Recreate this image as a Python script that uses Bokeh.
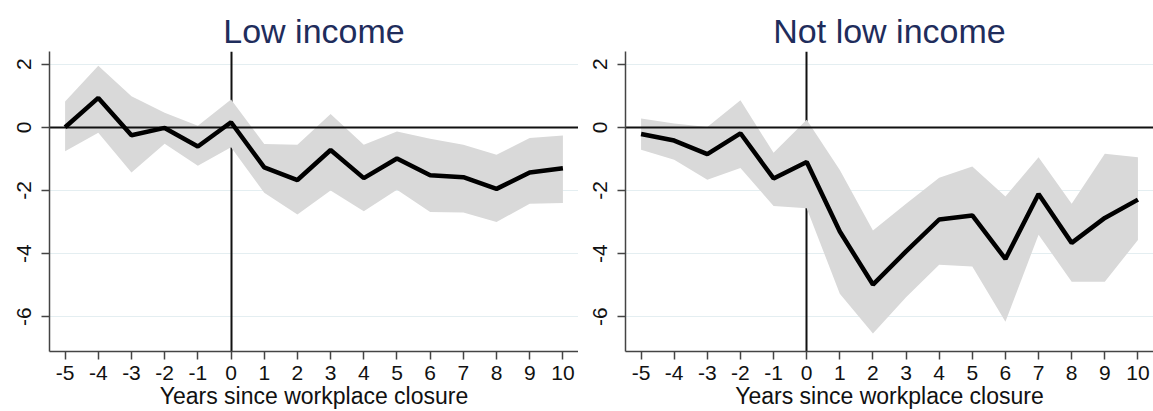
from bokeh.plotting import figure
from bokeh.layouts import row
from bokeh.models import FixedTicker
from bokeh.embed import file_html
from bokeh.resources import INLINE

years = [-5, -4, -3, -2, -1, 0, 1, 2, 3, 4, 5, 6, 7, 8, 9, 10]

low_est = [0.0, 0.93, -0.25, -0.02, -0.61, 0.16, -1.27, -1.67, -0.72, -1.61, -0.99, -1.52, -1.58, -1.95, -1.43, -1.3]
low_hi = [0.82, 1.95, 0.98, 0.46, 0.05, 0.88, -0.53, -0.55, 0.42, -0.55, -0.13, -0.36, -0.55, -0.87, -0.34, -0.26]
low_lo = [-0.76, -0.17, -1.43, -0.52, -1.22, -0.63, -2.07, -2.76, -2.0, -2.66, -1.98, -2.68, -2.7, -3.0, -2.42, -2.4]

not_est = [-0.21, -0.42, -0.85, -0.19, -1.62, -1.1, -3.3, -4.98, -3.93, -2.92, -2.79, -4.17, -2.11, -3.66, -2.87, -2.29]
not_hi = [0.28, 0.12, 0.01, 0.86, -0.81, 0.24, -1.35, -3.27, -2.42, -1.6, -1.24, -2.19, -0.95, -2.42, -0.84, -0.95]
not_lo = [-0.71, -1.03, -1.66, -1.29, -2.49, -2.56, -5.27, -6.53, -5.38, -4.35, -4.41, -6.16, -3.4, -4.89, -4.89, -3.57]

titles = ["Low income", "Not low income"]
x_ticks = years
y_ticks = [-6, -4, -2, 0, 2]
x_label = "Years since workplace closure"

FONT = "Liberation Sans"


def make_panel(title, est, lo, hi, width, border_left):
    p = figure(width=width, height=411, output_backend="svg", toolbar_location=None,
               x_range=(-5.47, 10.47), y_range=(-7.1, 2.4),
               min_border_left=border_left, min_border_right=0,
               min_border_top=51, min_border_bottom=60)
    p.outline_line_color = None
    p.background_fill_color = "white"
    p.border_fill_color = "white"

    p.title.text = title
    p.title.align = "center"
    p.title.text_font = FONT
    p.title.text_font_size = "34px"
    p.title.text_font_style = "normal"
    p.title.text_color = "#1f2d5c"
    p.title.standoff = 4

    p.xgrid.grid_line_color = None
    p.ygrid.grid_line_color = "#e4eef1"
    p.ygrid.grid_line_width = 1.2

    for ax in (p.xaxis, p.yaxis):
        ax.axis_line_color = "#444444"
        ax.axis_line_width = 1.5
        ax.major_tick_line_color = "#444444"
        ax.major_tick_line_width = 1.5
        ax.major_tick_in = 0
        ax.major_tick_out = 8
        ax.minor_tick_line_color = None
        ax.major_label_text_font = FONT
        ax.major_label_text_font_size = "21px"
        ax.major_label_text_color = "#111111"

    p.xaxis.ticker = FixedTicker(ticks=x_ticks)
    p.yaxis.ticker = FixedTicker(ticks=y_ticks)
    p.ygrid.ticker = FixedTicker(ticks=y_ticks)
    p.xaxis.major_label_overrides = {t: str(t) for t in x_ticks}
    p.yaxis.major_label_overrides = {t: str(t) for t in y_ticks}
    p.xaxis.major_label_standoff = 6
    p.yaxis.major_label_standoff = 10
    p.yaxis.major_label_orientation = "vertical"

    p.xaxis.axis_label = x_label
    p.xaxis.axis_label_text_font = FONT
    p.xaxis.axis_label_text_font_size = "23px"
    p.xaxis.axis_label_text_font_style = "normal"
    p.xaxis.axis_label_text_color = "#111111"
    p.xaxis.axis_label_standoff = 0

    p.vspan(x=[0], line_color="#111111", line_width=2)
    p.varea(x=years, y1=lo, y2=hi, fill_color="#d9d9d9", fill_alpha=1.0)
    p.hspan(y=[0], line_color="#111111", line_width=2.2)
    p.line(x=years, y=est, line_color="black", line_width=4.5)
    return p


p1 = make_panel(titles[0], low_est, low_lo, low_hi, 578, 49)
p2 = make_panel(titles[1], not_est, not_lo, not_hi, 575, 47)

layout = row(p1, p2, spacing=0)
open("out.html", "w").write(file_html(layout, INLINE))
